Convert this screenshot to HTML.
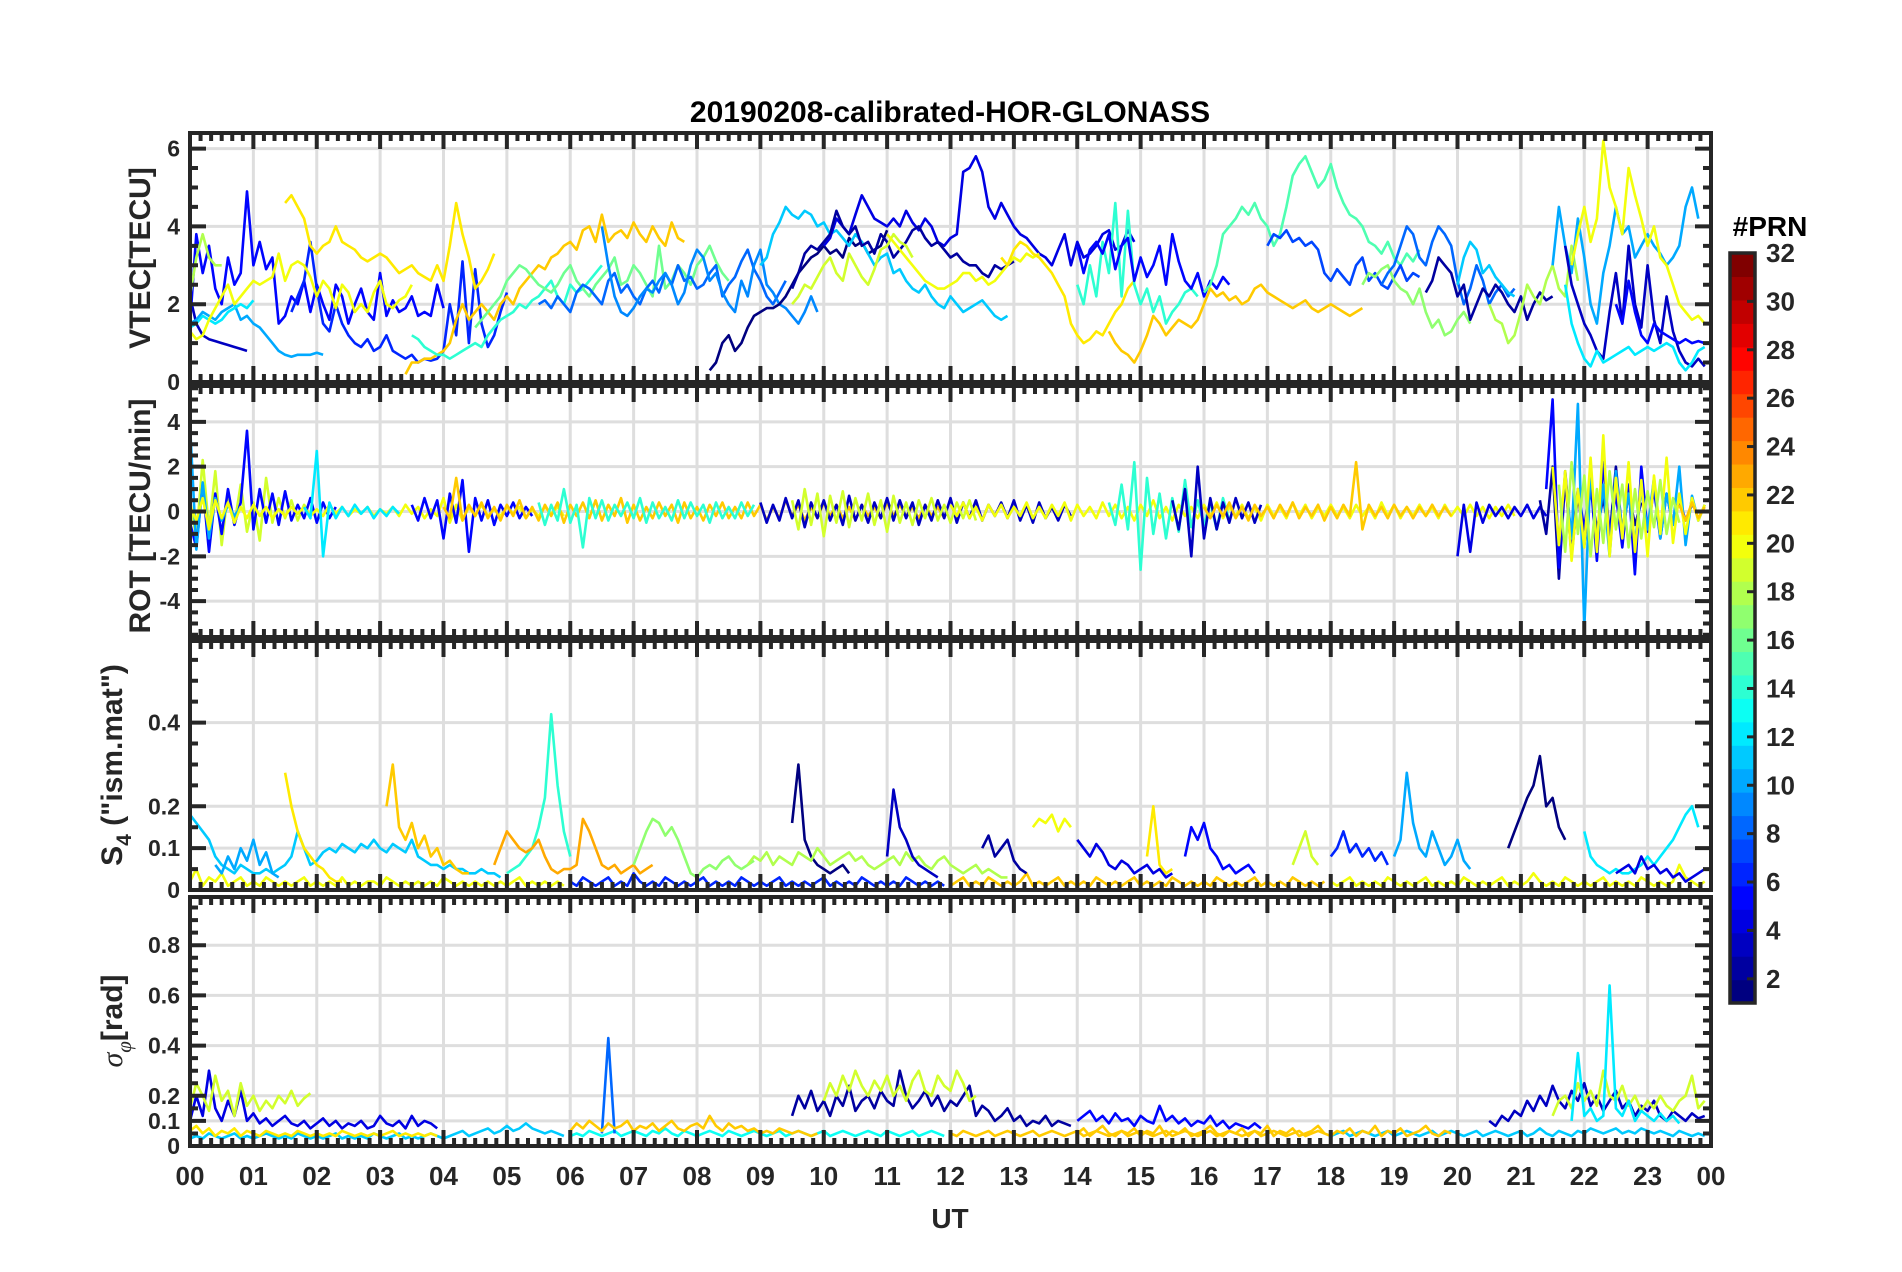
<!DOCTYPE html>
<html><head><meta charset="utf-8"><title>20190208-calibrated-HOR-GLONASS</title>
<style>
html,body{margin:0;padding:0;background:#fff;}
svg{display:block;font-family:"Liberation Sans",Arial,sans-serif;}
</style></head>
<body>
<svg id="chart" width="1902" height="1272" viewBox="0 0 1902 1272" xmlns="http://www.w3.org/2000/svg"></svg>
<script>
// ---------------- DATA ----------------
const hourLabels = ["00","01","02","03","04","05","06","07","08","09","10","11","12","13","14","15","16","17","18","19","20","21","22","23","00"];
const cbarTicks = [2,4,6,8,10,12,14,16,18,20,22,24,26,28,30,32];
const vtecTicks = [0,2,4,6];
const rotTicks = [-4,-2,0,2,4];
const s4Ticks = [0,0.1,0.2,0.4];
const sigTicks = [0,0.1,0.2,0.4,0.6,0.8];
const stepH = 0.1;

const vtecPrn = [3,5,6,10,12,20,21,18,22,14,16,8,9,1,11,4,2,19,20,21,14,5,22,15,7,17,8,2,11,18,10,20,3,5,12];
const vtecStart = [0,0,1.6,0,0,0,1.5,0,3.4,3.5,4.5,5.5,6.5,8.2,9.0,10,9.5,9.5,11,12.8,14,14,14.5,16,17,18.5,18.8,19.5,20,20.5,21.5,21.8,21.7,22.5,21.7];
const vtecValues = [
[2.2,1.5,1.2,1.1,1.05,1.0,0.95,0.9,0.85,0.8],
[1.5,3.8,2.8,3.5,2.4,2.0,3.2,2.5,2.8,4.9,3.0,3.6,2.9,3.2,1.5,1.7,2.2,2.0,2.6,1.8,2.5,2.0,1.6,2.5,2.2,1.5,2.0,2.4,1.8,1.6,2.8,1.7,2.1,1.8,1.9,2.2,1.7,1.8,1.7,2.5,1.9],
[1.8,2.2,2.6,3.6,2.4,1.5,1.3,2.0,1.5,1.2,1.0,0.9,1.1,0.8,0.9,1.2,0.8,0.7,0.6,0.7,0.5,0.6,0.55,0.6,0.8,2.0,1.2,3.1,1.0,2.9,1.5,0.9,1.2,1.8,2.3],
[1.5,1.6,1.8,1.7,1.6,1.8,1.9,2.0,1.6,1.7,1.5,1.4,1.2,1.0,0.8,0.7,0.65,0.7,0.7,0.7,0.75,0.7],
[1.4,1.5,1.7,1.6,1.5,1.6,1.8,1.9,2.0,1.9,2.1],
[1.3,1.1,1.2,1.6,1.9,2.2,2.5,2.0,2.2,2.4,2.6,2.5,2.6,2.7,3.3,2.6,3.0,3.1,3.0,2.7,2.2,2.6,2.4,1.9,2.5,2.3,1.8,2.0,1.8,2.3,2.6,2.0,1.9,2.1,2.2,2.5],
[4.6,4.8,4.5,4.2,3.5,3.3,3.5,3.6,4.0,3.6,3.5,3.4,3.2,3.1,3.2,3.3,3.2,3.0,2.8,2.9,3.0,2.8,2.7,2.6,3.0,2.6,3.5,4.6,3.8,3.2,2.4,2.6,2.9,3.3],
[2.2,3.2,3.8,3.2,3.0,3.0],
[0.2,0.5,0.5,0.6,0.6,0.7,0.8,1.0,1.6,2.0,1.6,1.8,2.0,1.8,1.6,2.0,2.2,2.0,2.4,2.6,2.8,3.0,2.9,3.2,3.3,3.5,3.6,3.4,3.9,4.0,3.6,4.3,3.6,3.8,3.9,3.7,4.1,3.8,3.6,4.0,3.7,3.5,4.1,3.7,3.6],
[1.2,1.1,0.9,0.8,0.7,0.7,0.6,0.7,0.8,0.9,1.0,0.9,1.2,1.4,1.6,1.7,1.8,2.0,1.9,2.1,2.2,2.4,2.6,2.2,2.0,2.5,2.3,2.4,2.6,2.8,3.0],
[1.4,1.6,1.8,2.0,2.2,2.6,2.8,3.0,2.9,2.7,2.5,2.4,2.3,2.5,2.8,3.0,2.6,2.4,2.2,2.5,2.7,2.9,3.2,2.5,2.6,3.0,2.8,2.5,2.2,3.5,2.4,2.6,3.0,2.8,2.5,3.0,3.2,3.5,3.1,2.8,2.6],
[2.0,2.1,1.9,2.2,2.0,1.8,2.3,2.5,2.4,2.2,2.0,2.6,2.8,2.3,2.5,2.2,2.0,2.4,2.6,2.3,2.8,2.5,3.0,2.6,2.7,2.4,2.5,2.8,3.0,2.2,2.5,2.7,3.1,3.4,2.9,2.6,2.2,2.0,2.3,2.6],
[4.0,3.0,2.2,1.8,1.7,1.9,2.2,2.4,2.3,2.6,2.8,2.5,2.0,2.3,3.0,3.4,3.2,2.6,2.8,2.3,2.0,1.8,2.6,2.2,3.0,3.4,2.5,2.3,2.0,1.9,1.7,1.5,1.8,2.2,1.8],
[0.3,0.5,1.0,1.2,0.8,1.0,1.4,1.7,1.8,1.9,1.9,2.0,2.2,2.5,2.8,3.0,3.2,3.3,3.5,3.3,3.4,3.2,3.7,3.5,3.6,3.3,3.4,3.5,3.9],
[3.0,3.2,3.8,4.1,4.5,4.3,4.2,4.4,4.3,4.0,4.1,3.8,3.9,3.7,3.5,3.8,3.6,3.3,3.0,3.2,3.3,2.8,2.9,2.6,2.4,2.3,2.5,2.2,2.0,1.9,2.2,2.0,1.8,1.9,2.0,2.1,1.9,1.7,1.6,1.7],
[3.5,3.7,4.2,4.0,3.8,4.3,4.8,4.5,4.2,4.1,4.0,4.2,4.0,4.4,4.1,3.9,4.2,4.0,3.6,3.5,3.7,3.8,5.4,5.5,5.8,5.4,4.5,4.2,4.6,4.3,4.0,3.8,3.7,3.5,3.3,3.2,3.0,3.4,3.8,3.0,3.6,3.2,3.3,3.5,3.8,3.9,3.4,3.5,3.9,3.6],
[2.4,2.8,3.3,3.5,3.4,3.6,3.8,4.4,4.0,3.8,4.0,3.5,3.6,3.3,3.8,3.6,3.2,3.4,3.6,3.9,4.0,3.7,3.5,3.6,3.4,3.2,3.3,3.1,3.0,3.0,2.8,2.7,3.0,2.9,3.0,3.1],
[2.0,2.2,2.5,2.4,2.7,3.0,3.2,2.8,2.6,3.3,3.0,2.7,2.5,2.9,3.4,3.5,3.8,3.6,3.5,3.2],
[3.8,3.6,3.4,3.2,3.0,2.8,2.6,2.5,2.4,2.4,2.5,2.6,2.8,2.8,2.6,2.7,2.5,2.6,2.8,3.0,3.2,3.1,3.3,3.2,3.3],
[3.2,3.0,3.4,3.6,3.5,3.3,3.2,3.0,2.8,2.5,2.2,1.5,1.2,1.0,1.1,1.3,1.2,1.5,1.8,2.0,2.4,2.6],
[2.5,2.0,3.0,2.2,3.6,2.8,4.6,2.2,4.4,2.5,2.0,2.4,1.8,2.2,1.5,1.8,2.0,2.3,2.4,2.2],
[3.5,2.8,3.4,3.6,3.3,3.8,2.9,3.5,3.7,2.6,3.2,2.7,3.0,3.5,2.5,3.8,3.1,2.6,2.4,2.8,2.2,2.6,2.4,2.7,2.5],
[1.3,1.0,0.8,0.7,0.5,0.8,1.2,1.7,1.5,1.2,1.4,1.6,1.5,1.4,1.6,2.0,2.4,2.2,2.3,2.1,2.2,2.0,2.1,2.4,2.5,2.3,2.2,2.1,2.0,1.9,2.0,2.1,1.9,1.8,1.9,2.0,1.9,1.8,1.7,1.8,1.9],
[2.3,2.5,3.0,3.8,4.0,4.2,4.5,4.3,4.6,4.2,4.0,3.5,3.8,4.5,5.3,5.6,5.8,5.4,5.0,5.2,5.6,5.0,4.6,4.3,4.2,4.0,3.6,3.5,3.3,3.6,3.2,3.0,3.3,3.1,3.4],
[3.5,3.8,3.7,3.9,3.6,3.7,3.5,3.6,3.4,2.8,2.6,2.9,2.7,2.5,3.0,3.2,2.6,2.8,2.5,2.4,2.7,3.0,2.6,2.8,2.7],
[2.5,2.8,2.7,2.9,3.0,2.6,2.4,2.3,2.0,2.4,1.8,1.4,1.6,1.2,1.3,1.6,1.8,1.5],
[2.5,2.8,3.0,3.5,4.0,3.8,3.2,3.0,3.6,4.0,3.8,3.5,2.6,2.0,2.4,3.0,2.6,2.0,2.3,2.5,2.2,2.4],
[2.3,2.6,3.2,3.0,2.8,2.2,2.5,1.6,2.0,2.4,2.2,2.5,2.3,2.0,1.8,2.2,1.6,2.0,2.3,2.1,2.2],
[2.5,3.2,3.6,3.4,2.8,3.0,2.7,2.5,2.3,2.2],
[2.0,1.6,1.5,1.0,1.2,1.8,2.5,2.2,2.0,2.6,3.0,2.4,2.2,3.5,2.6],
[3.0,4.5,3.5,2.8,4.2,3.2,2.0,1.5,2.8,3.5,4.5,3.8,4.0,3.2,3.5,3.8,3.5,3.3,3.0,3.2,3.5,4.5,5.0,4.2],
[3.0,3.8,4.5,3.6,4.2,6.2,5.0,4.5,3.8,5.5,4.8,4.2,3.5,4.0,3.2,3.0,2.5,2.0,1.8,1.6,1.7,1.5],
[3.5,2.5,2.0,1.5,1.2,0.8,0.6,1.8,2.8,1.5,3.5,2.0,1.4,3.0,1.6,1.0,2.2,1.3,0.8,0.5,0.4,0.6,0.4],
[2.0,1.5,2.6,1.8,1.2,1.0,1.5,1.3,1.2,1.1,1.0,1.1,1.0,1.05,1.0],
[2.5,1.5,1.0,0.6,0.4,0.8,0.5,0.6,0.7,0.8,0.9,0.7,0.8,0.9,0.8,0.9,1.0,0.9,0.5,0.3,0.5,0.8,0.9]
];

const rotPrn = [19,5,10,20,12,5,22,14,3,19,20,14,3,22,4,2,5,10,20,18,22];
const rotStart = [0,0,0,0,1.8,3.5,4.0,5.5,9,9.5,12,14.5,15.5,16,20,21.3,21.4,21.7,21.5,21.6,23.5];
const rotValues = [
[0.5,-1.2,2.3,-0.8,1.8,-1.5,0.9,-0.6,1.2,-0.9,0.4,-1.3,1.5,-0.5,0.6,-0.3,0.5,-0.4,0.3,-0.2],
[-0.5,-1.6,1.2,-1.8,0.8,-1.0,1.0,-0.6,0.4,3.6,-0.8,1.0,-0.5,0.8,-0.6,0.9,-0.4,0.3,-0.3,0.6,-0.5,0.4,-0.3,0.2],
[3.9,-1.7,1.3,-1.2,0.6,-0.4,0.3,-0.2,0.2],
[0.3,-0.4,0.6,-0.8,0.5,-0.3,0.4,-0.5,0.2,-0.3,0.3,-0.2,0.2,-0.3,0.1,-0.2,0.2,-0.1,0.2,-0.2,0.1,-0.2,0.3,-0.1,0.2,-0.2,0.1,-0.1,0.2,-0.2,0.1,-0.1,0.2,-0.2,0.3,-0.1,0.2,-0.3,0.1,-0.2,0.6,-0.5,0.3,-0.4,0.2,-0.2,0.3,-0.2,0.1,-0.2,0.2,-0.1,0.2,-0.3,0.1,-0.2,0.2,-0.1,0.2,-0.2],
[0.2,-0.3,2.7,-2.0,0.4,-0.3,0.2,-0.2,0.3,-0.1,0.2,-0.3,0.1,-0.2,0.2,-0.1],
[0.3,-0.4,0.6,-0.3,0.5,-1.2,0.8,-0.5,1.4,-1.8,0.6,-0.4,0.5,-0.6,0.3,-0.2,0.4,-0.3,0.2,-0.2],
[0.2,-0.3,1.5,-0.4,0.3,-0.2,0.4,-0.3,0.2,-0.4,0.3,-0.2,0.5,-0.3,0.2,-0.4,0.3,-0.2,0.4,-0.5,0.3,-0.2,0.4,-0.3,0.5,-0.4,0.3,-0.2,0.6,-0.5,0.3,-0.4,0.2,-0.3,0.4,-0.2,0.3,-0.5,0.4,-0.3,0.2,-0.4,0.3,-0.2,0.4,-0.3,0.2,-0.3,0.4,-0.2,0.3,-0.4,0.2,-0.3,0.5,-0.2,0.3,-0.4,0.2,-0.3,0.4,-0.2,0.3,-0.3,0.2,-0.4,0.3,-0.2,0.2,-0.3,0.4,-0.2,0.3,-0.2,0.2,-0.3,0.3,-0.2,0.2,-0.3],
[0.4,-0.6,0.3,-0.4,1.0,-0.5,0.3,-1.6,0.6,-0.3,0.5,-0.4,0.3,-0.2,0.4,-0.3,0.6,-0.5,0.4,-0.3,0.2,-0.4,0.5,-0.3,0.4,-0.2,0.3,-0.5,0.4,-0.3,0.2,-0.3,0.4,-0.2,0.3],
[0.4,-0.5,0.3,-0.4,0.6,-0.3,0.5,-0.7,0.4,-0.3,0.5,-0.4,0.3,-0.6,0.7,-0.4,0.3,-0.5,0.4,-0.3,0.6,-0.4,0.5,-0.3,0.4,-0.6,0.3,-0.4,0.5,-0.3,0.6,-0.5,0.4,-0.3,0.5,-0.4,0.3,-0.2,0.4,-0.3,0.5,-0.4,0.3,-0.5,0.4,-0.3,0.2,-0.4,0.3,-0.2],
[0.5,-0.8,1.0,-0.6,0.8,-1.1,0.7,-0.5,0.9,-0.7,0.6,-0.4,0.8,-0.6,0.5,-0.9,0.7,-0.5,0.4,-0.6,0.5,-0.3,0.6,-0.4,0.3,-0.5,0.4,-0.3,0.5,-0.4],
[0.3,-0.2,0.4,-0.3,0.2,-0.4,0.3,-0.2,0.3,-0.3,0.2,-0.2,0.4,-0.3,0.2,-0.3,0.3,-0.2,0.4,-0.4,0.3,-0.2,0.2,-0.3,0.4,-0.2,0.3,-0.3,0.2,-0.4,0.3,-0.2,0.5,-0.3,0.2,-0.4,0.3,-0.2,0.2,-0.3,0.3,-0.2,0.4,-0.3,0.2,-0.2,0.3,-0.3,0.2,-0.4,0.3,-0.2,0.2,-0.3,0.4,-0.2,0.3,-0.3,0.2,-0.2,0.3,-0.2,0.2,-0.3,0.3,-0.2,0.2,-0.3,0.4,-0.2,0.3,-0.3,0.2,-0.2,0.3,-0.2,0.2,-0.3,0.3,-0.2,0.2,-0.2,0.3,-0.2,0.2,-0.3,0.2,-0.2,0.3,-0.2],
[0.4,-0.6,1.2,-0.8,2.2,-2.6,1.5,-1.0,0.8,-1.2,0.6,-0.9,1.4,-0.7,0.5,-0.6,0.4,-0.8,0.6,-0.4],
[0.5,-0.8,1.0,-2.0,2.0,-1.2,0.6,-0.8,0.4,-0.5,0.6,-0.3,0.4,-0.5,0.3],
[0.2,-0.3,0.3,-0.2,0.4,-0.3,0.2,-0.4,0.3,-0.2,0.2,-0.3,0.3,-0.2,0.4,-0.3,0.2,-0.2,0.3,-0.4,0.2,-0.3,0.3,-0.2,2.2,-0.8,0.3,-0.2,0.2,-0.3,0.3,-0.2,0.2,-0.3,0.2,-0.2,0.3,-0.2,0.2,-0.2],
[-2.0,0.3,-1.8,0.4,-0.5,0.3,-0.2,0.2,-0.3,0.2,-0.2,0.3,-0.3,0.2,-0.2],
[0.5,-1.0,2.0,-3.0,1.5,-2.0,0.8,-1.5,1.0,-0.8,0.6,-1.2,2.0,-1.0,0.8,-0.6,0.4],
[1.0,5.0,-2.5,1.8,-1.5,1.0,-0.8,1.5,-2.2,2.2,-1.0,0.8,-1.6,1.2,-2.8,2.0,-0.9,1.0,-1.2,0.8,-0.6,0.5,-0.4,0.3],
[1.5,-1.2,4.8,-5.2,2.0,-1.5,1.2,-2.0,1.8,-1.0,0.8,-1.4,1.0,-0.8,1.5,-1.2,0.8,-0.6,2.0,-1.5,0.7,-0.4,0.3],
[2.0,-1.5,1.8,-2.2,1.0,-1.6,2.4,-1.8,3.4,-2.0,1.5,-1.2,2.2,-1.8,1.4,-2.0,1.6,-1.0,2.4,-1.4,0.8,-1.0,0.6,-0.4,0.3],
[1.2,-1.8,2.2,-1.0,1.6,-2.0,1.0,-1.4,1.8,-0.8,1.2,-1.6,1.0,-1.2,0.9,-0.7,1.4,-1.0,0.6,-0.5],
[0.3,-0.4,0.4,-0.3,0.2]
];

const s4Prn = [20,6,22,20,11,10,21,22,14,23,17,1,18,3,2,20,4,21,5,19,6,10,1,12,4];
const s4Start = [0,6,12,18,0,0.4,1.5,3.1,5.0,4.8,7.0,9.5,8.8,11.0,12.5,13.3,14.0,15.1,15.7,17.4,18.0,19.0,20.8,22.0,22.5];
const s4Values = [
[0.02,0.05,0.01,0.03,0.02,0.04,0.01,0.02,0.03,0.01,0.02,0.01,0.03,0.02,0.01,0.02,0.01,0.02,0.03,0.01,0.02,0.01,0.02,0.01,0.03,0.01,0.02,0.01,0.02,0.02,0.01,0.03,0.02,0.01,0.02,0.01,0.02,0.01,0.02,0.01,0.03,0.02,0.01,0.02,0.01,0.02,0.01,0.02,0.01,0.02,0.01,0.02,0.03,0.01,0.02,0.01,0.02,0.01,0.02,0.01],
[0.02,0.01,0.03,0.02,0.01,0.02,0.03,0.01,0.02,0.01,0.04,0.02,0.01,0.02,0.01,0.03,0.02,0.01,0.02,0.01,0.02,0.03,0.01,0.02,0.01,0.02,0.01,0.03,0.02,0.01,0.02,0.01,0.02,0.03,0.01,0.02,0.01,0.02,0.01,0.02,0.03,0.01,0.02,0.01,0.02,0.01,0.03,0.02,0.01,0.02,0.01,0.02,0.01,0.03,0.02,0.01,0.02,0.01,0.02,0.01],
[0.01,0.02,0.03,0.01,0.02,0.01,0.03,0.02,0.01,0.02,0.01,0.02,0.04,0.01,0.02,0.01,0.02,0.03,0.01,0.02,0.01,0.02,0.01,0.03,0.02,0.01,0.02,0.01,0.02,0.03,0.01,0.02,0.01,0.02,0.01,0.03,0.02,0.01,0.02,0.01,0.02,0.01,0.03,0.02,0.01,0.02,0.01,0.02,0.03,0.01,0.02,0.01,0.02,0.01,0.03,0.02,0.01,0.02,0.01,0.02],
[0.02,0.01,0.02,0.03,0.01,0.02,0.01,0.02,0.01,0.03,0.02,0.01,0.02,0.01,0.02,0.03,0.01,0.02,0.01,0.02,0.01,0.03,0.02,0.01,0.02,0.01,0.02,0.03,0.01,0.02,0.01,0.02,0.04,0.02,0.01,0.02,0.01,0.03,0.02,0.01,0.02,0.01,0.02,0.03,0.01,0.02,0.01,0.02,0.01,0.03,0.02,0.01,0.02,0.01,0.02,0.06,0.03,0.02,0.01,0.02],
[0.18,0.16,0.14,0.12,0.08,0.06,0.05,0.04,0.06,0.05,0.04,0.04,0.05,0.04,0.05,0.06,0.08,0.14,0.1,0.06,0.07,0.09,0.1,0.09,0.11,0.1,0.09,0.11,0.1,0.12,0.1,0.09,0.11,0.1,0.09,0.12,0.08,0.07,0.06,0.06,0.05,0.06,0.05,0.05,0.04,0.04,0.05,0.04,0.04,0.03],
[0.06,0.04,0.08,0.05,0.1,0.07,0.12,0.06,0.09,0.04,0.03],
[0.28,0.2,0.14,0.1,0.08,0.06,0.05,0.03,0.02,0.02],
[0.2,0.3,0.15,0.12,0.16,0.1,0.13,0.08,0.1,0.06,0.07,0.05,0.04,0.04],
[0.04,0.05,0.06,0.08,0.1,0.15,0.22,0.42,0.25,0.14,0.08],
[0.06,0.1,0.14,0.12,0.1,0.09,0.1,0.12,0.08,0.05,0.04,0.05,0.05,0.06,0.17,0.14,0.1,0.06,0.05,0.06,0.04,0.05,0.06,0.04,0.05,0.06],
[0.06,0.1,0.14,0.17,0.16,0.13,0.15,0.12,0.08,0.04,0.03,0.05,0.06,0.05,0.07,0.08,0.06,0.05,0.06,0.07],
[0.16,0.3,0.12,0.08,0.06,0.05,0.04,0.05,0.06,0.04],
[0.06,0.08,0.07,0.09,0.06,0.08,0.07,0.06,0.09,0.08,0.07,0.1,0.08,0.06,0.07,0.08,0.09,0.07,0.08,0.06,0.05,0.06,0.07,0.08,0.06,0.09,0.07,0.08,0.06,0.05,0.07,0.08,0.06,0.05,0.04,0.05,0.06,0.04,0.05,0.04,0.03,0.03],
[0.08,0.24,0.15,0.12,0.08,0.06,0.05,0.04,0.03],
[0.1,0.13,0.08,0.1,0.12,0.07,0.05,0.04],
[0.15,0.17,0.16,0.18,0.14,0.17,0.15],
[0.12,0.1,0.08,0.11,0.09,0.06,0.05,0.07,0.06,0.04,0.05,0.06,0.04,0.05,0.03,0.04],
[0.08,0.2,0.06,0.04,0.05],
[0.08,0.15,0.12,0.16,0.1,0.08,0.05,0.06,0.04,0.05,0.06,0.04],
[0.06,0.1,0.14,0.08,0.06],
[0.08,0.1,0.14,0.09,0.11,0.08,0.1,0.07,0.09,0.06],
[0.08,0.12,0.28,0.16,0.1,0.08,0.14,0.1,0.06,0.08,0.12,0.07,0.05],
[0.1,0.14,0.18,0.22,0.25,0.32,0.2,0.22,0.15,0.12],
[0.14,0.08,0.06,0.05,0.04,0.05,0.04,0.04,0.05,0.06,0.08,0.06,0.08,0.1,0.12,0.15,0.18,0.2,0.15],
[0.04,0.05,0.06,0.04,0.08,0.05,0.06,0.04,0.05,0.03,0.04,0.02,0.03,0.04,0.05]
];

const sigPrn = [11,13,22,11,4,19,21,8,22,2,19,5,22,3,19,12];
const sigStart = [0,6,12,18,0,0,0,6.5,6.0,9.5,10,14,14,20.5,21.5,21.8];
const sigValues = [
[0.03,0.04,0.03,0.05,0.04,0.03,0.04,0.05,0.03,0.04,0.03,0.04,0.05,0.04,0.03,0.04,0.03,0.05,0.04,0.03,0.04,0.03,0.04,0.05,0.03,0.04,0.03,0.04,0.03,0.05,0.04,0.03,0.04,0.05,0.03,0.04,0.03,0.04,0.05,0.04,0.03,0.04,0.05,0.06,0.04,0.05,0.06,0.07,0.05,0.06,0.08,0.06,0.07,0.09,0.07,0.06,0.05,0.06,0.05,0.04],
[0.04,0.05,0.04,0.06,0.05,0.04,0.05,0.06,0.04,0.05,0.06,0.05,0.04,0.06,0.05,0.07,0.05,0.04,0.06,0.05,0.04,0.05,0.06,0.05,0.04,0.06,0.05,0.04,0.05,0.06,0.05,0.04,0.05,0.06,0.04,0.05,0.06,0.05,0.04,0.05,0.06,0.04,0.05,0.06,0.05,0.04,0.05,0.06,0.05,0.04,0.06,0.05,0.04,0.05,0.06,0.04,0.05,0.06,0.05,0.04],
[0.05,0.04,0.06,0.05,0.04,0.05,0.06,0.04,0.05,0.06,0.05,0.04,0.05,0.06,0.04,0.05,0.06,0.05,0.04,0.05,0.06,0.04,0.05,0.06,0.05,0.04,0.05,0.06,0.04,0.05,0.06,0.05,0.04,0.05,0.06,0.04,0.05,0.06,0.05,0.04,0.05,0.06,0.04,0.05,0.06,0.05,0.04,0.05,0.06,0.04,0.05,0.06,0.05,0.04,0.05,0.06,0.04,0.05,0.06,0.05],
[0.04,0.05,0.06,0.04,0.05,0.06,0.05,0.04,0.05,0.06,0.04,0.05,0.06,0.05,0.04,0.05,0.06,0.04,0.05,0.06,0.05,0.04,0.05,0.06,0.04,0.05,0.06,0.05,0.04,0.05,0.06,0.04,0.05,0.07,0.05,0.04,0.06,0.05,0.04,0.06,0.05,0.07,0.06,0.05,0.06,0.07,0.05,0.06,0.05,0.07,0.06,0.05,0.06,0.05,0.04,0.06,0.05,0.04,0.05,0.04],
[0.1,0.2,0.12,0.3,0.15,0.1,0.18,0.12,0.22,0.1,0.13,0.09,0.11,0.08,0.1,0.12,0.09,0.08,0.1,0.07,0.09,0.11,0.08,0.1,0.07,0.09,0.08,0.1,0.07,0.08,0.12,0.09,0.08,0.1,0.07,0.12,0.08,0.1,0.09,0.07],
[0.15,0.25,0.2,0.14,0.28,0.18,0.22,0.12,0.25,0.16,0.2,0.14,0.18,0.15,0.2,0.17,0.22,0.16,0.19,0.21],
[0.06,0.08,0.05,0.07,0.04,0.06,0.05,0.07,0.04,0.06,0.05,0.04,0.06,0.05,0.04,0.05,0.04,0.06,0.05,0.04,0.05,0.04,0.05,0.04,0.06,0.05,0.04,0.05,0.04,0.05,0.04,0.05,0.06,0.04,0.05,0.04,0.05,0.04,0.05,0.04],
[0.05,0.43,0.05],
[0.06,0.09,0.07,0.1,0.08,0.06,0.09,0.07,0.08,0.1,0.06,0.08,0.07,0.09,0.06,0.08,0.1,0.07,0.06,0.08,0.09,0.07,0.12,0.08,0.06,0.09,0.07,0.08,0.06,0.07,0.05,0.06,0.05,0.07,0.06,0.05,0.06,0.05,0.04,0.05],
[0.12,0.2,0.15,0.22,0.14,0.18,0.12,0.2,0.16,0.24,0.14,0.18,0.2,0.15,0.22,0.18,0.16,0.3,0.2,0.15,0.18,0.22,0.16,0.2,0.14,0.18,0.16,0.2,0.24,0.12,0.16,0.14,0.1,0.12,0.15,0.1,0.12,0.08,0.1,0.09,0.12,0.08,0.1,0.09,0.08],
[0.18,0.25,0.2,0.28,0.22,0.3,0.24,0.2,0.26,0.22,0.28,0.2,0.24,0.18,0.26,0.3,0.22,0.2,0.28,0.24,0.22,0.3,0.25,0.18,0.2],
[0.1,0.12,0.14,0.1,0.12,0.09,0.13,0.1,0.11,0.08,0.12,0.1,0.09,0.16,0.1,0.12,0.09,0.11,0.08,0.1,0.09,0.12,0.08,0.1,0.07,0.09,0.08,0.07,0.09,0.07],
[0.05,0.07,0.04,0.06,0.08,0.05,0.04,0.06,0.05,0.07,0.04,0.06,0.05,0.08,0.04,0.06,0.05,0.07,0.04,0.05,0.06,0.08,0.05,0.04,0.06,0.05,0.07,0.04,0.06,0.05,0.08,0.04,0.06,0.05,0.07,0.04,0.05,0.06,0.08,0.05,0.04,0.06,0.05,0.07,0.04,0.06,0.05,0.08,0.04,0.06,0.05,0.07,0.04,0.05,0.06,0.08,0.05,0.04,0.06,0.05],
[0.1,0.08,0.12,0.1,0.14,0.12,0.18,0.14,0.2,0.16,0.24,0.18,0.15,0.22,0.18,0.25,0.16,0.2,0.14,0.18,0.22,0.15,0.18,0.12,0.16,0.14,0.18,0.12,0.1,0.14,0.12,0.1,0.13,0.11,0.12],
[0.12,0.18,0.2,0.15,0.25,0.18,0.22,0.16,0.3,0.2,0.18,0.24,0.16,0.2,0.14,0.18,0.15,0.2,0.16,0.14,0.18,0.2,0.28,0.15,0.18],
[0.1,0.37,0.12,0.15,0.1,0.12,0.64,0.15,0.12,0.18,0.1,0.14,0.12,0.1,0.13,0.1,0.12,0.09]
];

// ---------------- RENDER ----------------
const NS = "http://www.w3.org/2000/svg";
const svg = document.getElementById("chart");
const X0 = 190, X1 = 1711;
const INK = "#262626";
function xOf(h){ return X0 + h * (X1 - X0) / 24; }
function jet(n){
  const x = (n - 1) / 31;
  const c = v => Math.round(255 * Math.max(0, Math.min(1, v)));
  return "rgb(" + c(1.5 - Math.abs(4*x - 3)) + "," + c(1.5 - Math.abs(4*x - 2)) + "," + c(1.5 - Math.abs(4*x - 1)) + ")";
}
function mk(tag, attrs, parent){
  const e = document.createElementNS(NS, tag);
  for (const k in attrs) e.setAttribute(k, attrs[k]);
  (parent || svg).appendChild(e);
  return e;
}

const panels = [
  {key:"vtec", top:133, bottom:382, min:0, max:6.4, ticks:vtecTicks, grid:vtecTicks, minor:0.5, prn:vtecPrn, start:vtecStart, vals:vtecValues, lw:2.6},
  {key:"rot", top:386, bottom:637, min:-5.6, max:5.6, ticks:rotTicks, grid:rotTicks, minor:0.5, prn:rotPrn, start:rotStart, vals:rotValues, lw:2.6},
  {key:"s4", top:641, bottom:890, min:0, max:0.595, ticks:s4Ticks, grid:[0.1,0.2,0.4], minor:0.05, prn:s4Prn, start:s4Start, vals:s4Values, lw:2.6},
  {key:"sigma", top:897, bottom:1146, min:0, max:0.992, ticks:sigTicks, grid:[0.1,0.2,0.4,0.6,0.8], minor:0.05, prn:sigPrn, start:sigStart, vals:sigValues, lw:2.6}
];

const title = mk("text", {x:950, y:122, "text-anchor":"middle", "font-size":30, "font-weight":"bold", fill:"#000"});
title.textContent = "20190208-calibrated-HOR-GLONASS";



panels.forEach((p, pi) => {
  const yOf = v => p.bottom - (v - p.min) * (p.bottom - p.top) / (p.max - p.min);
  const g = mk("g", {});
  
  
  for (let h = 1; h < 24; h++){
    const gl = mk("line", {x1:xOf(h), x2:xOf(h), y1:p.top, y2:p.bottom, stroke:"#dedede", "stroke-width":3}, g);
    
    
  }
  p.grid.forEach(v => {
    const gl = mk("line", {x1:X0, x2:X1, y1:yOf(v), y2:yOf(v), stroke:"#dedede", "stroke-width":3}, g);
    
    
  });
  const cp = mk("clipPath", {id:"clip" + pi}, g);
  mk("rect", {x:X0, y:p.top, width:X1 - X0, height:p.bottom - p.top}, cp);
  const dg = mk("g", {"clip-path":"url(#clip" + pi + ")"}, g);
  
  
  p.vals.forEach((arr, si) => {
    const pts = arr.map((v, i) => xOf(p.start[si] + i * stepH).toFixed(1) + "," + yOf(v).toFixed(1)).join(" ");
    const pl = mk("polyline", {points:pts, fill:"none", stroke:jet(p.prn[si]), "stroke-width":p.lw, "stroke-linejoin":"round"}, dg);
    
    
  });
  const fr = mk("rect", {x:X0, y:p.top, width:X1 - X0, height:p.bottom - p.top, fill:"none", stroke:INK, "stroke-width":4}, g);
  
  
  let d = "";
  for (let m = 0; m <= 144; m++){
    const x = xOf(m / 6);
    const L = (m % 6 === 0) ? 16 : 8;
    d += "M" + x + "," + p.top + "v" + L + "M" + x + "," + p.bottom + "v" + (-L);
  }
  const nMin = Math.round((p.max - p.min) / p.minor) + 2;
  const first = Math.ceil(p.min / p.minor) * p.minor;
  for (let k = 0; k < nMin; k++){
    const v = first + k * p.minor;
    if (v > p.max + 1e-9) break;
    const y = yOf(v);
    const isMajor = p.ticks.some(t => Math.abs(t - v) < 1e-6) || p.grid.some(t => Math.abs(t - v) < 1e-6);
    const L = isMajor ? 16 : 8;
    d += "M" + X0 + "," + y + "h" + L + "M" + X1 + "," + y + "h" + (-L);
  }
  const tk = mk("path", {d:d, stroke:INK, "stroke-width":4, fill:"none"}, g);
  
  
  p.ticks.forEach(v => {
    const t = mk("text", {x:180, y:yOf(v) + 8, "text-anchor":"end", "font-size":23, "font-weight":"bold", fill:INK}, g);
    t.textContent = String(v);
    
    
  });
});

function yTitle(name, cx, cy, build){
  const t = mk("text", {transform:"translate(" + cx + "," + cy + ") rotate(-90)", "text-anchor":"middle", "font-size":30, "font-weight":"bold", fill:INK});
  build(t);
  
  
}
yTitle("vtec-y-axis-title", 150, 258, t => { t.textContent = "VTEC[TECU]"; });
yTitle("rot-y-axis-title", 150, 516, t => { t.textContent = "ROT [TECU/min]"; });
yTitle("s4-y-axis-title", 122, 765, t => {
  const a = mk("tspan", {}, t); a.textContent = "S";
  const b = mk("tspan", {"font-size":21, dy:9}, t); b.textContent = "4";
  const c = mk("tspan", {dy:-9}, t); c.textContent = " (\"ism.mat\")";
});
yTitle("sigma-y-axis-title", 122, 1021, t => {
  const a = mk("tspan", {"font-family":"Liberation Serif, serif", "font-style":"italic", "font-weight":"normal"}, t); a.textContent = "σ";
  const b = mk("tspan", {"font-size":21, dy:9, "font-family":"Liberation Serif, serif", "font-style":"italic", "font-weight":"normal"}, t); b.textContent = "φ";
  const c = mk("tspan", {dy:-9}, t); c.textContent = "[rad]";
});

hourLabels.forEach((lab, i) => {
  const t = mk("text", {x:xOf(i), y:1185, "text-anchor":"middle", "font-size":26, "font-weight":"bold", fill:INK});
  t.textContent = lab;
  
  
});
const ut = mk("text", {x:950, y:1228, "text-anchor":"middle", "font-size":28, "font-weight":"bold", fill:INK});
ut.textContent = "UT";



const CB = {x:1730, w:25, top:253, bottom:1003, lo:1, hi:32};
const cbY = v => CB.bottom - (v - CB.lo) * (CB.bottom - CB.top) / (CB.hi - CB.lo);
const cbg = mk("g", {});


const bh = (CB.bottom - CB.top) / 32;
for (let n = 1; n <= 32; n++){
  const r = mk("rect", {x:CB.x, y:CB.bottom - n * bh, width:CB.w, height:bh + 0.6, fill:jet(n)}, cbg);
  
  
}
const cbf = mk("rect", {x:CB.x, y:CB.top, width:CB.w, height:CB.bottom - CB.top, fill:"none", stroke:INK, "stroke-width":3.5}, cbg);


cbarTicks.forEach(v => {
  const y = cbY(v);
  const l = mk("line", {x1:CB.x + CB.w - 8, x2:CB.x + CB.w, y1:y, y2:y, stroke:INK, "stroke-width":3}, cbg);
  
  
  const t = mk("text", {x:1766, y:y + 9, "font-size":26, "font-weight":"bold", fill:INK}, cbg);
  t.textContent = String(v);
  
  
});
const prnT = mk("text", {x:1770, y:236, "text-anchor":"middle", "font-size":28, "font-weight":"bold", fill:"#000"});
prnT.textContent = "#PRN";


</script>
</body></html>
